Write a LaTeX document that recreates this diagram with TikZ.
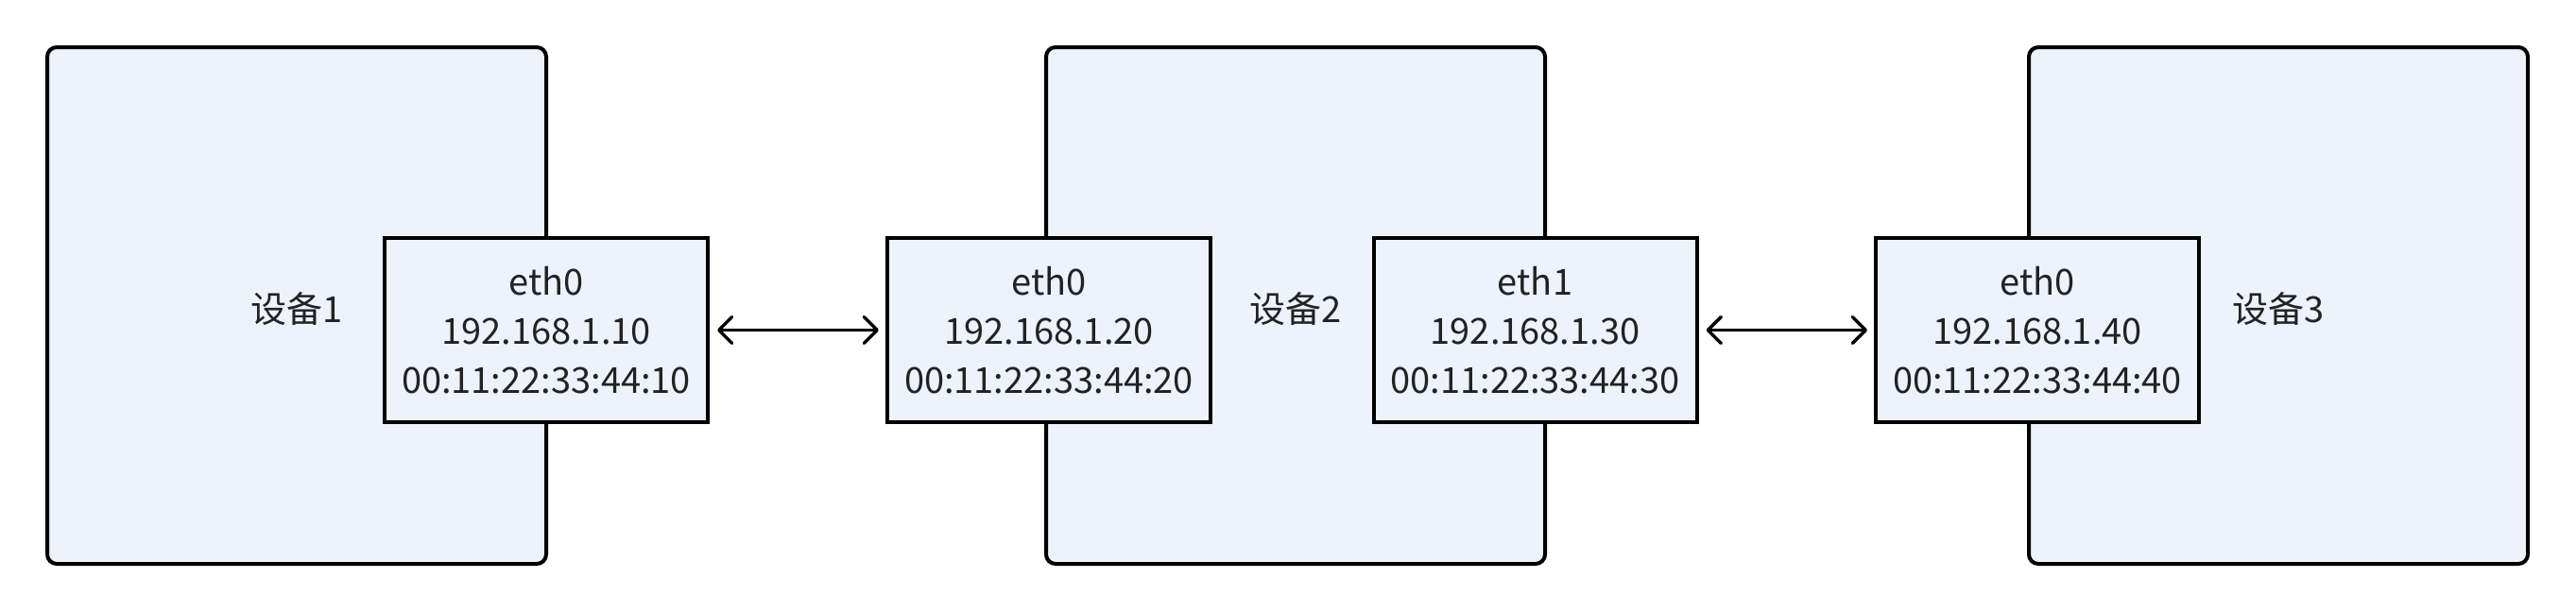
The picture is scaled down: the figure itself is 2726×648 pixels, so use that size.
\documentclass[tikz,border=0pt]{standalone}
\usepackage{fontspec}
\setmainfont{Noto Sans CJK SC}
\usetikzlibrary{arrows.meta}
\definecolor{boxfill}{HTML}{EEF2FB}
\definecolor{txt}{HTML}{222222}
\begin{document}
\begin{tikzpicture}[x=1pt,y=-1pt,
  device/.style={draw=black, fill=boxfill, line width=4pt, rounded corners=10pt,
    minimum width=528pt, minimum height=547pt, inner sep=0pt},
  devlabel/.style={inner sep=0pt, text=txt, font=\fontsize{38}{46}\selectfont},
  iface/.style={draw=black, fill=boxfill, line width=4pt,
    minimum width=342pt, minimum height=195pt, inner sep=0pt, text=txt,
    align=center, font=\fontsize{38}{52}\selectfont},
  link/.style={line width=3.5pt, line cap=round,
    {Straight Barb[length=14pt,width=28pt,line cap=round,line join=round]}-{Straight Barb[length=14pt,width=28pt,line cap=round,line join=round]},
    shorten <=8pt, shorten >=7pt}
]
\useasboundingbox (0,0) rectangle (2726,648);
\node[device] (d1) at (314,323.5) {};
\node[device] (d2) at (1371,323.5) {};
\node[device] (d3) at (2411,323.5) {};
\node[devlabel] (l1) at ([yshift=-4pt]d1.center) {设备1};
\node[devlabel] (l2) at ([yshift=-4pt]d2.center) {设备2};
\node[devlabel] (l3) at ([yshift=-4pt]d3.center) {设备3};
\node[iface] (e10) at (578,349.5) {eth0\\192.168.1.10\\00:11:22:33:44:10};
\node[iface] (e20) at (1110,349.5) {eth0\\192.168.1.20\\00:11:22:33:44:20};
\node[iface] (e21) at (1624.5,349.5) {eth1\\192.168.1.30\\00:11:22:33:44:30};
\node[iface] (e30) at (2156,349.5) {eth0\\192.168.1.40\\00:11:22:33:44:40};
\draw[link] (e10.east) -- (e20.west);
\draw[link] (e21.east) -- (e30.west);
\end{tikzpicture}
\end{document}
